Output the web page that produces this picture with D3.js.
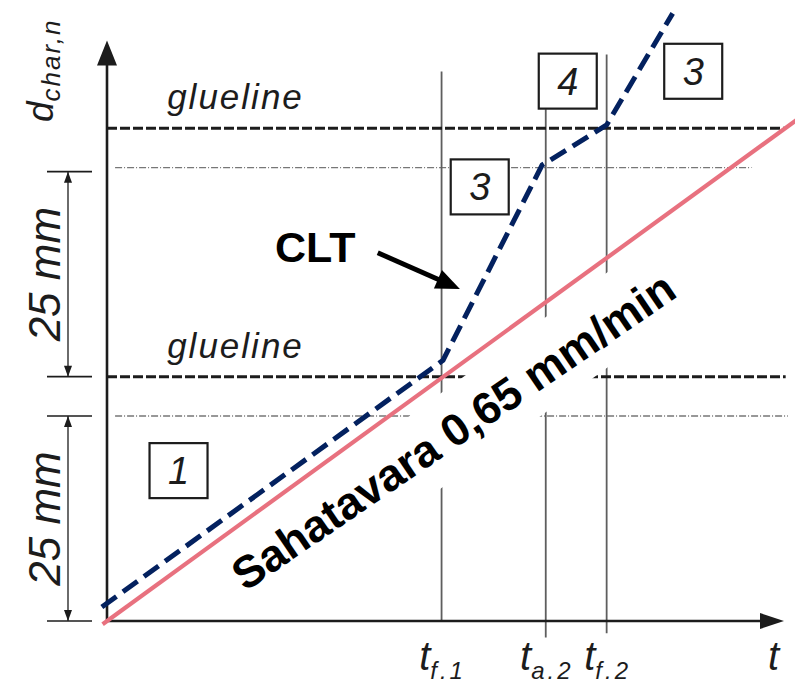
<!DOCTYPE html>
<html>
<head>
<meta charset="utf-8">
<script src="https://cdn.jsdelivr.net/npm/d3@7"></script>
<style>
  body { margin: 0; background: #fff; }
  svg { display: block; font-family: "Liberation Sans", Arial, sans-serif; }
</style>
</head>
<body>
<svg id="chart" width="795" height="685"></svg>
<script>
// charring depth d (mm) against time t (min)
const charRate = 0.65;                 // mm/min
const rateT = [-0.6, 94.5];            // time span of the rate line
const cltT = [-0.7, 45.8, 59.3, 68.1, 77.1];
const cltD = [1.7, 31.8, 55.6, 60.5, 74.1];
const gluelines = [29.8, 60.1];
const layerLines = [25, 55.3];
const dimensions = [[0, 25], [29.8, 54.8]];
const timeNames = ["f.1", "a.2", "f.2"];
const timeValues = [45.6, 59.8, 68.1];
const timeTops = [67, 62.4, 69.1];
const timeBottoms = [0, -2, -1.5];
const phaseLabels = ["1", "3", "4", "3"];
const phaseT = [9.75, 50.8, 62.8, 79.9];
const phaseD = [18.4, 53.0, 65.9, 67.1];
const cltNote = { text: "CLT", t: 22.9, d: 43.8, fromT: 36.9, fromD: 44.9, toT: 48.1, toD: 40.5 };
const rateNote = { text: "Sahatavara 0,65 mm/min", t: 48.4, d: 21.6, angle: -34.3 };

const svg = d3.select("#chart");
const x = d3.scaleLinear().domain([0, 92]).range([107, 782]);
const y = d3.scaleLinear().domain([0, 25]).range([621, 416]);
const ink = "#1c1c1c";

// thin layer limits
svg.selectAll("line.layer").data(layerLines).enter().append("line")
    .attr("x1", x(1.1)).attr("x2", x(92.8))
    .attr("y1", d => y(d)).attr("y2", d => y(d))
    .style("stroke", "#777").style("stroke-width", 1.3)
    .style("stroke-dasharray", "7,2,1,2");

// time marks
svg.selectAll("line.time").data(timeValues).enter().append("line")
    .attr("x1", d => x(d)).attr("x2", d => x(d))
    .attr("y1", (d, i) => y(timeTops[i])).attr("y2", (d, i) => y(timeBottoms[i]))
    .style("stroke", "#5e5e5e").style("stroke-width", 1.8);

// gluelines
svg.selectAll("line.glue").data(gluelines).enter().append("line")
    .attr("x1", x(0)).attr("x2", x(92.5))
    .attr("y1", d => y(d)).attr("y2", d => y(d))
    .style("stroke", ink).style("stroke-width", 3)
    .style("stroke-dasharray", "10,3");

// dimension lines on the left
const dimX = 68;
dimensions.forEach(([a, b]) => {
    const ya = y(a), yb = y(b);
    svg.append("line").attr("x1", dimX).attr("x2", dimX).attr("y1", ya).attr("y2", yb)
        .style("stroke", ink).style("stroke-width", 1.3);
    [ya, yb].forEach(v => {
        svg.append("line").attr("x1", 47).attr("x2", 92).attr("y1", v).attr("y2", v)
            .style("stroke", ink).style("stroke-width", 1.6);
    });
    svg.append("path").attr("d", `M${dimX},${ya} L${dimX - 4},${ya - 11} L${dimX + 4},${ya - 11} Z`).style("fill", ink);
    svg.append("path").attr("d", `M${dimX},${yb} L${dimX - 4},${yb + 11} L${dimX + 4},${yb + 11} Z`).style("fill", ink);
});

// white band under the rate text
const p0 = [x(rateT[0]), y(charRate * rateT[0])];
const p1 = [x(rateT[1]), y(charRate * rateT[1])];
const len = Math.hypot(p1[0] - p0[0], p1[1] - p0[1]);
const e = [(p1[0] - p0[0]) / len, (p1[1] - p0[1]) / len];
const n = [-e[1], e[0]];
const band = [[118, 12], [1000, 12], [1000, 89], [118, 89]]
    .map(([u, v]) => [p0[0] + u * e[0] + v * n[0], p0[1] + u * e[1] + v * n[1]]);
svg.append("path").attr("d", "M" + band.join("L") + "Z").style("fill", "#fff");

// axes with arrows
const x0 = x(0), y0 = y(0), xEnd = x(92), yEnd = y(70.8);
svg.append("line").attr("x1", x0).attr("x2", x0).attr("y1", y0).attr("y2", yEnd + 10)
    .style("stroke", ink).style("stroke-width", 2.6);
svg.append("line").attr("x1", x0 - 1).attr("x2", xEnd - 10).attr("y1", y0).attr("y2", y0)
    .style("stroke", ink).style("stroke-width", 2.6);
svg.append("path")
    .attr("d", `M${x0},${yEnd} L${x0 - 10},${yEnd + 25} L${x0 + 10},${yEnd + 25} Z`)
    .style("fill", ink);
svg.append("path")
    .attr("d", `M${xEnd + 2},${y0} L${xEnd - 22},${y0 - 8} L${xEnd - 22},${y0 + 8} Z`)
    .style("fill", ink);

// rate line
svg.append("line")
    .attr("x1", p0[0]).attr("y1", p0[1]).attr("x2", p1[0]).attr("y2", p1[1])
    .style("stroke", "#e8717f").style("stroke-width", 4.2);

// CLT line
const line = d3.line().x(d => x(d[0])).y(d => y(d[1]));
svg.append("path")
    .datum(cltT.map((t, i) => [t, cltD[i]]))
    .attr("d", line)
    .style("fill", "none").style("stroke", "#03215f").style("stroke-width", 5)
    .style("stroke-dasharray", "18,8");

// phase boxes
const boxes = svg.selectAll("g.phase").data(phaseLabels).enter().append("g")
    .attr("transform", (d, i) => `translate(${x(phaseT[i])},${y(phaseD[i])})`);
boxes.append("rect")
    .attr("x", -29).attr("y", -27).attr("width", 58).attr("height", 55)
    .style("fill", "#fff").style("stroke", ink).style("stroke-width", 2.2);
boxes.append("text")
    .attr("text-anchor", "middle").attr("y", 14)
    .style("font-size", "38px").style("font-style", "italic").style("fill", ink)
    .text(d => d);

// glueline labels
svg.selectAll("text.glue").data(gluelines).enter().append("text")
    .attr("x", x(8.2)).attr("y", d => y(d) - 19)
    .style("font-size", "35px").style("font-style", "italic")
    .style("letter-spacing", "2px").style("fill", ink)
    .text("glueline");

// 25 mm labels
svg.selectAll("text.dim").data(dimensions).enter().append("text")
    .attr("transform", d => `translate(60,${y((d[0] + d[1]) / 2)}) rotate(-90)`)
    .attr("text-anchor", "middle")
    .style("font-size", "44px").style("font-style", "italic").style("fill", ink)
    .text("25 mm");

// y axis title
const yTitle = svg.append("text")
    .attr("transform", "translate(53,122) rotate(-90)")
    .style("fill", ink);
yTitle.append("tspan").style("font-size", "37px").style("font-style", "italic").text("d");
yTitle.append("tspan").attr("dy", 7).style("font-size", "26px").style("font-style", "italic")
    .style("letter-spacing", "2px").text("char,n");

// time labels
const tLabels = svg.selectAll("text.time").data(timeValues).enter().append("text")
    .attr("x", d => x(d) + 1).attr("y", 670)
    .attr("text-anchor", "middle").style("fill", ink).style("font-style", "italic");
tLabels.append("tspan").style("font-size", "40px").text("t");
tLabels.append("tspan").attr("dy", 9).style("font-size", "24px")
    .style("letter-spacing", "3px").text((d, i) => timeNames[i]);
svg.append("text").attr("x", xEnd - 14).attr("y", 670)
    .style("font-size", "40px").style("font-style", "italic").style("fill", ink).text("t");

// CLT annotation
svg.append("text").attr("x", x(cltNote.t)).attr("y", y(cltNote.d))
    .style("font-size", "43px").style("font-weight", "bold").style("fill", "#000")
    .text(cltNote.text);
const a0 = [x(cltNote.fromT), y(cltNote.fromD)], a1 = [x(cltNote.toT), y(cltNote.toD)];
const ang = Math.atan2(a1[1] - a0[1], a1[0] - a0[0]);
svg.append("line")
    .attr("x1", a0[0]).attr("y1", a0[1])
    .attr("x2", a1[0] - 16 * Math.cos(ang)).attr("y2", a1[1] - 16 * Math.sin(ang))
    .style("stroke", "#000").style("stroke-width", 5);
const hl = 24, hw = 10;
const bx = a1[0] - hl * Math.cos(ang), by = a1[1] - hl * Math.sin(ang);
svg.append("path")
    .attr("d", `M${a1[0]},${a1[1]} L${bx + hw * Math.sin(ang)},${by - hw * Math.cos(ang)} L${bx - hw * Math.sin(ang)},${by + hw * Math.cos(ang)} Z`)
    .style("fill", "#000");

// rate annotation
svg.append("text")
    .attr("transform", `translate(${x(rateNote.t)},${y(rateNote.d)}) rotate(${rateNote.angle})`)
    .attr("text-anchor", "middle")
    .style("font-size", "45px").style("font-weight", "bold").style("fill", "#000")
    .text(rateNote.text);
</script>
</body>
</html>
